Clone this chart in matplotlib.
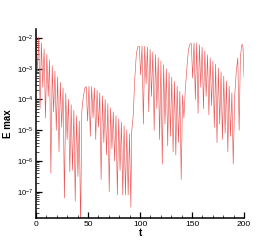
import matplotlib
matplotlib.use('Agg')
import matplotlib.pyplot as plt
from matplotlib.ticker import FixedLocator, MultipleLocator, NullFormatter, LogFormatterMathtext

# peaks (envelope) and dips of E_max, as log10 values
t_peak = [0.0, 2.6, 5.2, 7.8, 10.4, 13.0, 15.6, 18.2, 20.8, 23.4, 26.0, 28.6, 31.2, 33.8, 36.4, 39.0, 41.6,
          44.0, 45.5, 47.0,
          48.3, 50.9, 53.5, 56.1, 58.7, 61.3, 63.9, 66.5, 69.1, 71.7, 74.3, 76.9, 79.5, 82.1, 84.7, 87.3, 89.9,
          92.0, 93.5, 95.0, 96.5, 98.0,
          99.3, 101.9, 104.5, 107.1, 109.7, 112.3, 114.9, 117.5, 120.1, 122.7, 125.3, 127.9, 130.5, 133.1, 135.7, 138.3, 140.9,
          143.5, 145.0, 146.5, 148.0,
          149.3, 151.9, 154.5, 157.1, 159.7, 162.3, 164.9, 167.5, 170.1, 172.7, 175.3, 177.9, 180.5, 183.1, 185.7, 188.3,
          191.0, 192.5, 194.0, 196.5, 198.0, 199.0, 200.0]
logE_peak = [-1.80, -1.98, -2.16, -2.35, -2.53, -2.71, -2.90, -3.08, -3.26, -3.44, -3.62, -3.80, -3.99, -4.17, -4.35, -4.53, -4.70,
             -4.40, -3.90, -3.62,
             -3.58, -3.57, -3.58, -3.62, -3.70, -3.78, -3.88, -4.00, -4.13, -4.27, -4.40, -4.52, -4.63, -4.74, -4.85, -4.98, -5.12,
             -5.05, -4.50, -3.30, -2.50, -2.28,
             -2.27, -2.26, -2.27, -2.30, -2.37, -2.45, -2.54, -2.64, -2.75, -2.87, -3.00, -3.13, -3.27, -3.41, -3.57, -3.73, -3.85,
             -3.70, -3.00, -2.40, -2.20,
             -2.18, -2.16, -2.16, -2.22, -2.30, -2.42, -2.55, -2.65, -2.75, -2.85, -2.98, -3.10, -3.24, -3.40, -3.56, -3.78,
             -3.90, -3.10, -2.65, -2.60, -2.20, -2.30, -3.27]

t_dip = [1.3, 3.9, 6.5, 9.1, 11.7, 14.3, 16.9, 19.5, 22.1, 24.7, 27.3, 29.9, 32.5, 35.1, 37.7, 40.3, 42.9,
         49.6, 52.2, 54.8, 57.4, 60.0, 62.6, 65.2, 67.8, 70.4, 73.0, 75.6, 78.2, 80.8, 83.4, 86.0, 88.6, 91.2,
         100.6, 103.2, 105.8, 108.4, 111.0, 113.6, 116.2, 118.8, 121.4, 124.0, 126.6, 129.2, 131.8, 134.4, 137.0, 139.6, 142.2,
         150.6, 153.2, 155.8, 158.4, 161.0, 163.6, 166.2, 168.8, 171.4, 174.0, 176.6, 179.2, 181.8, 184.4, 187.0, 189.6,
         195.3]
logE_dip = [-3.1, -4.3, -3.6, -4.6, -3.9, -6.4, -4.4, -5.0, -5.7, -4.9, -7.2, -5.3, -6.35, -6.3, -7.3, -6.5, -8.2,
            -4.7, -5.2, -4.6, -5.3, -4.9, -6.6, -5.4, -5.8, -7.0, -5.6, -6.0, -7.1, -6.3, -7.1, -7.1, -7.1, -7.5,
            -3.2, -4.8, -3.5, -4.4, -3.9, -5.0, -4.3, -5.3, -6.1, -4.8, -5.5, -5.2, -5.7, -5.8, -5.4, -6.6, -4.6,
            -3.3, -4.0, -4.45, -3.6, -4.3, -3.9, -4.5, -4.2, -4.9, -5.4, -4.8, -5.3, -5.1, -5.7, -5.2, -6.1,
            -5.0]

y_major = [1e-7, 1e-6, 1e-5, 1e-4, 1e-3, 1e-2]

pts = sorted(zip(t_peak + t_dip, logE_peak + logE_dip))
t = [p[0] for p in pts]
E = [10 ** p[1] for p in pts]

plt.rcParams['font.family'] = ['Liberation Sans', 'DejaVu Sans']
fig = plt.figure(figsize=(2.77, 2.46), dpi=100)
ax = fig.add_axes([0.130, 0.114, 0.751, 0.768])
ax.plot(t, E, color='#ea5656', lw=0.45)
ax.set_yscale('log')
ax.set_xlim(0, 200)
ax.set_ylim(10 ** -7.85, 10 ** -1.71)

for s in ['top', 'right']:
    ax.spines[s].set_visible(False)
for s in ['left', 'bottom']:
    ax.spines[s].set_linewidth(1.1)

ax.xaxis.set_major_locator(MultipleLocator(50))
ax.xaxis.set_minor_locator(MultipleLocator(10))
minor = [m * d for d in [1e-8] + y_major for m in range(2, 10) if 10 ** -7.85 < m * d < 10 ** -1.71]
ax.yaxis.set_major_locator(FixedLocator(y_major))
ax.yaxis.set_major_formatter(LogFormatterMathtext())
ax.yaxis.set_minor_locator(FixedLocator(minor))
ax.yaxis.set_minor_formatter(NullFormatter())
ax.tick_params(which='both', direction='in', labelsize=6, pad=2)
ax.tick_params(which='major', length=4, width=0.9)
ax.tick_params(which='minor', length=2, width=0.5)
ax.tick_params(axis='y', labelsize=5.5)

ax.set_xlabel('t', fontsize=7, fontweight='bold', labelpad=0)
ax.set_ylabel('E max', fontsize=7, fontweight='bold', labelpad=3)

fig.savefig('out.png', dpi=100)
